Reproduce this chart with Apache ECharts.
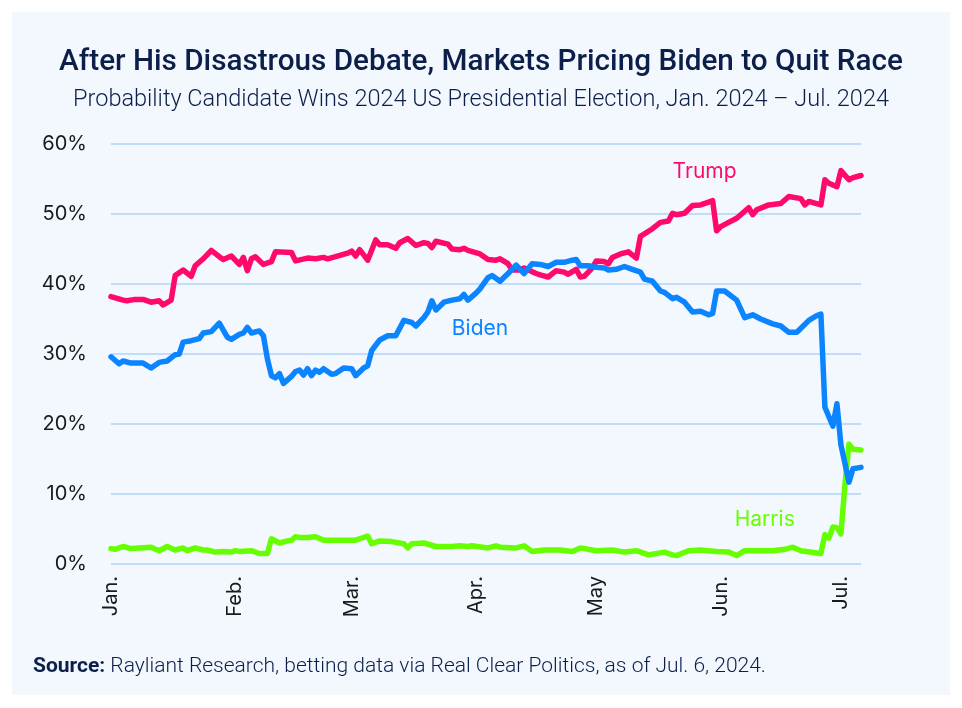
<!DOCTYPE html>
<html>
<head>
<meta charset="utf-8">
<script src="https://cdn.jsdelivr.net/npm/echarts@6/dist/echarts.min.js"></script>
<style>
html,body{margin:0;padding:0;background:#ffffff;}
#chart{width:962px;height:708px;}
</style>
</head>
<body>
<div id="chart"></div>
<script>
// ---- Data ----
const monthTicks = ['01-01','02-01','03-01','04-01','05-01','06-01','07-01'];
const monthLabels = ['Jan.','Feb.','Mar.','Apr.','May','Jun.','Jul.'];

const trumpDates = ['01-01','01-04','01-05','01-07','01-09','01-11','01-13','01-14','01-16','01-17','01-19','01-21','01-22','01-24','01-26','01-28','01-29','01-31',
'02-02','02-03','02-04','02-05','02-06','02-08','02-10','02-11','02-15','02-16','02-19','02-21','02-23','02-24','02-26','02-29',
'03-01','03-02','03-03','03-05','03-07','03-08','03-10','03-12','03-13','03-15','03-17','03-19','03-20','03-21','03-22','03-25','03-26','03-28','03-29','03-30',
'04-02','04-04','04-06','04-07','04-09','04-10','04-12','04-13','04-16','04-17','04-19','04-21','04-23','04-24','04-26','04-27','04-28','04-30',
'05-01','05-03','05-04','05-05','05-07','05-09','05-11','05-12','05-15','05-17','05-19','05-20','05-21','05-23','05-25','05-27','05-29','05-30','05-31',
'06-01','06-03','06-05','06-08','06-09','06-10','06-13','06-16','06-18','06-21','06-22','06-23','06-26','06-27','06-28','06-30',
'07-01','07-03','07-04','07-06'];
const trumpValues = [38.2,37.7,37.6,37.8,37.8,37.4,37.6,37.0,37.7,41.2,42.0,41.1,42.6,43.6,44.8,43.9,43.5,44.0,
42.8,43.8,41.9,43.6,43.9,42.8,43.2,44.6,44.5,43.3,43.7,43.6,43.8,43.6,43.9,44.4,
44.7,44.0,44.9,43.4,46.3,45.6,45.6,45.1,45.9,46.5,45.5,45.9,45.8,45.2,46.1,45.7,45.0,44.9,45.1,44.8,
44.3,43.5,43.4,43.6,42.9,42.0,42.0,42.3,41.5,41.3,41.0,41.9,41.7,41.4,42.1,41.0,41.1,42.3,
43.3,43.2,42.9,43.8,44.3,44.6,43.7,46.8,47.9,48.8,49.0,50.1,49.9,50.1,51.2,51.3,51.7,51.9,47.6,
48.2,48.8,49.4,50.9,49.9,50.6,51.3,51.5,52.5,52.2,51.3,51.8,51.3,54.9,54.4,53.9,
56.2,54.9,55.2,55.5];

const bidenDates = ['01-01','01-03','01-04','01-06','01-09','01-11','01-13','01-15','01-17','01-18','01-19','01-21','01-23','01-24','01-26','01-28','01-30','01-31',
'02-02','02-03','02-04','02-05','02-07','02-08','02-09','02-10','02-11','02-12','02-13','02-15','02-16','02-17','02-18','02-19','02-20','02-21','02-22','02-23','02-25','02-26','02-28',
'03-01','03-02','03-04','03-05','03-06','03-08','03-10','03-12','03-14','03-16','03-17','03-19','03-20','03-21','03-22','03-24','03-26','03-28','03-29','03-30',
'04-01','04-02','04-04','04-05','04-07','04-09','04-11','04-13','04-15','04-17','04-19','04-21','04-23','04-25','04-26','04-27','04-29',
'05-01','05-03','05-04','05-06','05-08','05-10','05-12','05-13','05-15','05-17','05-18','05-20','05-21','05-23','05-25','05-27','05-29','05-30','05-31',
'06-02','06-05','06-07','06-09','06-11','06-14','06-16','06-18','06-20','06-23','06-25','06-26','06-27','06-29','06-30',
'07-01','07-03','07-04','07-06'];
const bidenValues = [29.6,28.6,29.0,28.7,28.7,28.0,28.8,29.0,29.9,30.0,31.7,31.9,32.2,33.0,33.2,34.4,32.4,32.1,
32.8,33.0,33.8,33.0,33.3,32.6,29.3,26.9,26.6,27.2,25.8,26.8,27.5,27.7,27.0,27.9,26.9,27.7,27.4,27.9,27.1,27.2,28.0,
27.9,26.9,28.0,28.3,30.5,32.0,32.6,32.6,34.8,34.5,34.0,35.2,36.0,37.6,36.3,37.4,37.7,37.9,38.5,37.7,
38.7,39.3,40.9,41.2,40.4,41.5,42.7,41.5,42.9,42.8,42.5,43.1,43.1,43.4,43.5,42.6,42.6,
42.4,42.3,42.0,42.1,42.5,42.1,41.7,40.7,40.4,39.0,38.8,37.9,38.1,37.4,36.0,36.1,35.6,35.8,39.0,
39.0,37.7,35.2,35.6,35.0,34.3,34.0,33.1,33.1,34.8,35.5,35.7,22.4,19.7,22.9,
17.0,11.7,13.6,13.8];

const harrisDates = ['01-01','01-02','01-04','01-06','01-11','01-13','01-15','01-17','01-19','01-20','01-22','01-24','01-25','01-27','01-29','01-31',
'02-01','02-02','02-05','02-07','02-09','02-10','02-12','02-14','02-15','02-16','02-17','02-19','02-21','02-23',
'03-02','03-05','03-06','03-08','03-11','03-14','03-15','03-16','03-19','03-22','03-26','03-28','03-30','03-31',
'04-04','04-06','04-07','04-11','04-13','04-15','04-18','04-22','04-25','04-27',
'05-01','05-05','05-08','05-11','05-14','05-18','05-20','05-21','05-24','05-27','05-31',
'06-03','06-05','06-07','06-10','06-14','06-17','06-19','06-21','06-26','06-27','06-28','06-29','06-30',
'07-01','07-02','07-03','07-04','07-06'];
const harrisValues = [2.2,2.1,2.5,2.2,2.4,1.9,2.5,2.0,2.3,1.9,2.3,2.0,2.0,1.7,1.8,1.7,
1.9,1.8,1.9,1.5,1.5,3.6,3.0,3.3,3.4,3.9,3.8,3.8,3.9,3.4,
3.4,4.0,2.9,3.3,3.2,2.9,2.3,2.9,3.0,2.5,2.5,2.6,2.5,2.6,
2.3,2.6,2.4,2.3,2.6,1.8,2.0,2.0,1.8,2.3,
1.9,2.0,1.7,1.9,1.3,1.7,1.3,1.2,1.9,2.0,1.8,
1.7,1.2,1.9,1.9,1.9,2.1,2.4,1.9,1.5,4.2,3.7,5.3,5.2,
4.3,11.4,17.1,16.4,16.3];

// Series name labels (anchored in data coordinates)
const labelAnchors = {
  Trump: ['05-28', 56.0],
  Biden: ['04-02', 33.6],
  Harris: ['06-12', 6.3]
};

const colors = {Trump:'#ff0a6c', Biden:'#0a84ff', Harris:'#66ff00'};
const ts = s => Date.UTC(2024, parseInt(s.slice(0,2),10)-1, parseInt(s.slice(3,5),10));
const pairs = (d, v) => d.map((s, i) => [ts(s), v[i]]);
const tickTs = monthTicks.map(ts);

const chart = echarts.init(document.getElementById('chart'), null, {renderer:'canvas'});
const fontAxis = 'Inter, "Noto Sans", sans-serif';
const fontTitle = 'Roboto, "Liberation Sans", Arial, sans-serif';
const navy = '#0c1f4b';

function mkSeries(name, dates, vals){
  const a = labelAnchors[name];
  return {
    name, type:'line', data: pairs(dates, vals), showSymbol:false, smooth:false,
    lineStyle:{width:5.5, color:colors[name], cap:'round', join:'round'},
    itemStyle:{color:colors[name]},
    animation:false,
    markPoint:{
      symbol:'circle', symbolSize:1, silent:true, animation:false,
      itemStyle:{color:'rgba(0,0,0,0)'},
      data:[{coord:[ts(a[0]), a[1]], value:name}],
      label:{show:true, position:'inside', formatter:name, color:colors[name],
             fontSize:21, fontFamily:fontAxis, fontWeight:400}
    }
  };
}

const option = {
  backgroundColor:'#ffffff',
  animation:false,
  graphic:[{type:'rect', shape:{x:12, y:12, width:938, height:683}, style:{fill:'#f3f8fe'}, z:-10, silent:true}],
  title:[
    {text:'After His Disastrous Debate, Markets Pricing Biden to Quit Race', left:'center', top:43,
     textStyle:{fontSize:29.7, fontWeight:500, color:navy, fontFamily:fontTitle}},
    {text:'Probability Candidate Wins 2024 US Presidential Election, Jan. 2024 \u2013 Jul. 2024', left:'center', top:83,
     textStyle:{fontSize:23.5, fontWeight:300, color:navy, fontFamily:fontTitle}},
    {text:'{b|Source:} Rayliant Research, betting data via Real Clear Politics, as of Jul. 6, 2024.', left:28, top:651,
     textStyle:{fontSize:21, fontWeight:300, color:navy, fontFamily:fontTitle,
       rich:{b:{fontSize:21, fontWeight:700, color:navy, fontFamily:fontTitle}}}}
  ],
  grid:{left:111, right:101, top:144, bottom:144, containLabel:false},
  xAxis:{
    type:'value', min:ts('01-01'), max:ts('07-06'),
    axisLine:{show:false}, axisTick:{show:false}, splitLine:{show:false},
    axisLabel:{
      rotate:90, margin:12, fontSize:20, color:'#1a1a1a', fontFamily:fontAxis,
      customValues: tickTs,
      formatter: (v) => {
        const i = tickTs.indexOf(v);
        return i >= 0 ? monthLabels[i] : '';
      }
    }
  },
  yAxis:{
    type:'value', min:0, max:60, interval:10,
    axisLine:{show:false}, axisTick:{show:false},
    splitLine:{lineStyle:{color:'#c2ddfb', width:2}},
    axisLabel:{formatter:'{value}%', fontSize:20, color:'#1a1a1a', margin:24, fontFamily:fontAxis}
  },
  series:[
    mkSeries('Harris', harrisDates, harrisValues),
    mkSeries('Trump', trumpDates, trumpValues),
    mkSeries('Biden', bidenDates, bidenValues)
  ]
};
chart.setOption(option);
</script>
</body>
</html>
